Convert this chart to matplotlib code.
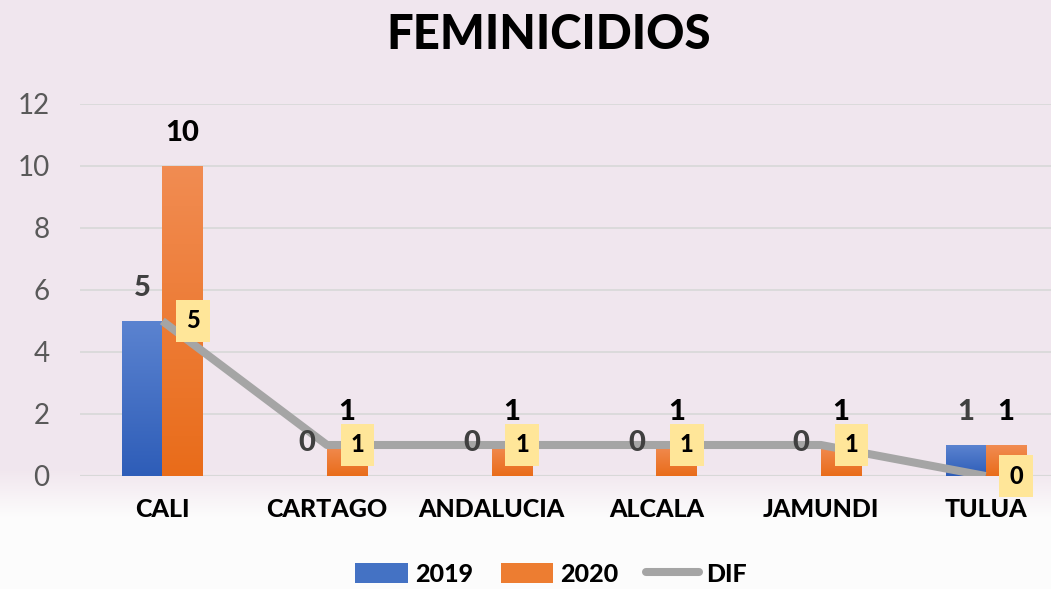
import numpy as np
import matplotlib

matplotlib.use("Agg")
import matplotlib.pyplot as plt
from matplotlib.patches import Patch
from matplotlib.lines import Line2D

plt.rcParams["font.family"] = ["Lato", "DejaVu Sans"]

categories = ["CALI", "CARTAGO", "ANDALUCIA", "ALCALA", "JAMUNDI", "TULUA"]
values_2019 = [5, 0, 0, 0, 0, 1]
values_2020 = [10, 1, 1, 1, 1, 1]
values_dif = [5, 1, 1, 1, 1, 0]
yticks = [0, 2, 4, 6, 8, 10, 12]

BLUE_TOP, BLUE_BOT = "#5B83D0", "#2E5DB8"
ORANGE_TOP, ORANGE_BOT = "#F18C52", "#E96C1A"
GRAY = "#A5A5A5"

W, H = 1051, 589
fig = plt.figure(figsize=(W / 100, H / 100), dpi=100)

# background: pale pink fading to white at the bottom
bg = fig.add_axes([0, 0, 1, 1], zorder=-10)
yy = np.linspace(0, 1, 300)[:, None]
xx = np.linspace(0, 1, 300)[None, :]
pink = np.array([0.945, 0.905, 0.935])
white = np.array([0.99, 0.99, 0.99])
fade = np.clip((yy - 0.80) / 0.08, 0, 1) + 0 * xx
img = pink[None, None, :] * (1 - fade[..., None]) + white[None, None, :] * fade[..., None]
bg.imshow(img, extent=[0, 1, 1, 0], aspect="auto")
bg.set_axis_off()

ax = fig.add_axes([80 / W, (H - 476) / H, 988 / W, 372 / H])
ax.set_facecolor("none")

x = np.arange(len(categories))
bw = 0.243


def hex_rgb(h):
    return np.array(matplotlib.colors.to_rgb(h))


def gradient_bars(bars, top, bot):
    top, bot = hex_rgb(top), hex_rgb(bot)
    g = np.linspace(0, 1, 100)[:, None, None]
    grad = top * (1 - g) + bot * g
    for b in bars:
        h = b.get_height()
        if h <= 0:
            continue
        x0 = b.get_x()
        ax.imshow(grad, extent=[x0, x0 + b.get_width(), 0, h],
                  aspect="auto", zorder=2, interpolation="bilinear")


b19 = ax.bar(x - bw / 2, values_2019, bw, color=BLUE_BOT, zorder=2)
b20 = ax.bar(x + bw / 2, values_2020, bw, color=ORANGE_BOT, zorder=2)
gradient_bars(b19, BLUE_TOP, BLUE_BOT)
gradient_bars(b20, ORANGE_TOP, ORANGE_BOT)

ax.plot(x, values_dif, color=GRAY, lw=5.8, zorder=3, solid_capstyle="butt",
        solid_joinstyle="round")

for xi, v in zip(x, values_2019):
    ax.annotate(str(v), (xi - bw / 2, v), xytext=(0, 24), textcoords="offset points",
                ha="center", va="center", fontsize=21, fontweight="black",
                color="#404040", zorder=5)
for xi, v in zip(x, values_2020):
    ax.annotate(str(v), (xi + bw / 2, v), xytext=(0, 24), textcoords="offset points",
                ha="center", va="center", fontsize=21, fontweight="black",
                color="black", zorder=5)
for xi, v in zip(x, values_dif):
    ax.annotate(str(v), (xi, v), xytext=(22, 0), textcoords="offset points",
                ha="center", va="center", fontsize=17, fontweight="black",
                color="black", zorder=6,
                bbox=dict(boxstyle="square,pad=0.42", fc="#FFE699", ec="none"))

ax.set_xlim(-0.5, len(categories) - 0.5)
ax.set_ylim(0, 12)
ax.set_yticks(yticks)
ax.set_xticks(x)
ax.set_xticklabels(categories, fontsize=18, fontweight="black")
ax.tick_params(axis="x", length=0, pad=16)
ax.tick_params(axis="y", length=0, pad=22, labelsize=20, labelcolor="#595959")
for lab in ax.get_yticklabels():
    lab.set_horizontalalignment("right")
ax.grid(axis="y", color="#D9D9D9", lw=1.3, zorder=0)
for s in ax.spines.values():
    s.set_visible(False)
ax.axhline(0, color="#D0D0D0", lw=1.5, zorder=1)

fig.text(549 / W, 1 - 35 / H, "FEMINICIDIOS", ha="center", va="center",
         fontsize=34, fontweight="black")

handles = [Patch(facecolor="#4472C4"), Patch(facecolor="#ED7D31"),
           Line2D([], [], color=GRAY, lw=5.8, solid_capstyle="round")]
fig.legend(handles, ["2019", "2020", "DIF"], loc="center", ncol=3,
           bbox_to_anchor=(551 / W, 1 - 574 / H), frameon=False,
           prop=dict(size=18, weight="black"), handlelength=2.1,
           handleheight=0.9, handletextpad=0.3, columnspacing=1.1)

fig.savefig("out.png", dpi=100)
